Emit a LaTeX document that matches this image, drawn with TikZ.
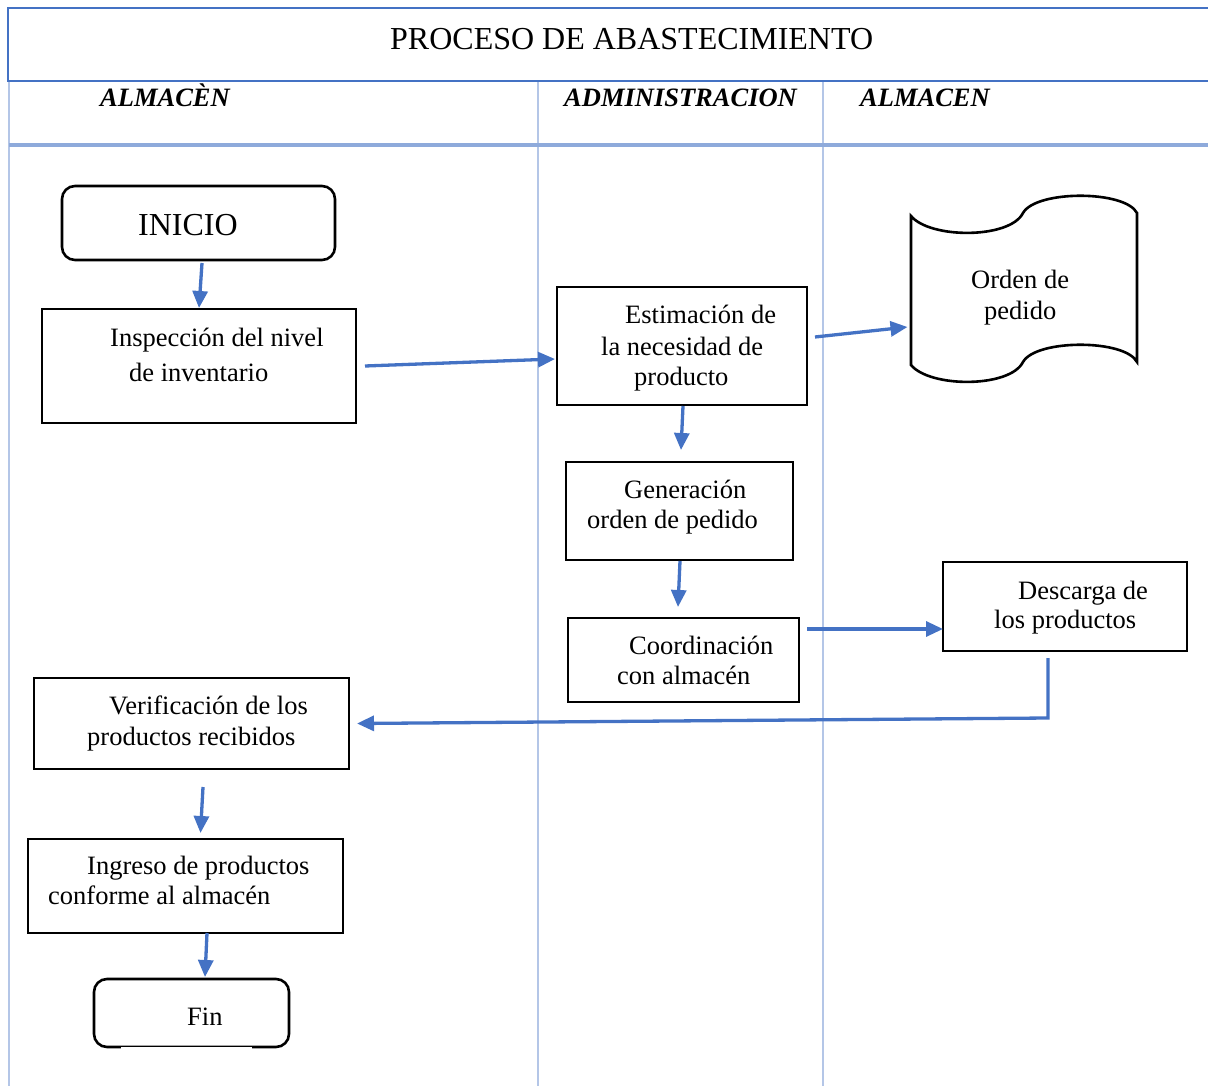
\documentclass[tikz,border=0pt]{standalone}
\usepackage{fontspec}
\setmainfont{Liberation Serif}
\usetikzlibrary{arrows.meta,calc}
\definecolor{arrblue}{HTML}{4472C4}
\definecolor{lanelight}{HTML}{B4C6E7}
\definecolor{lanemid}{HTML}{8EAADB}
\begin{document}
\begin{tikzpicture}[x=1pt,y=-1pt,
  box/.style={draw=black,line width=1.7pt,inner sep=0pt,outer sep=0pt,rectangle},
  roundbox/.style={draw=black,line width=2.6pt,inner sep=0pt,outer sep=0pt,rounded corners=13pt,rectangle},
  txt/.style={anchor=base west,inner sep=0pt,font=\fontsize{26.5}{31}\selectfont},
  hdr/.style={anchor=base west,inner sep=0pt,font=\fontsize{26.5}{31}\selectfont\bfseries\itshape},
  arr/.style={draw=arrblue,line width=3.3pt,-{Triangle[length=17pt,width=15pt]}}
]
\useasboundingbox (0,0) rectangle (1208,1086);
% table frame
\draw[lanelight,line width=2pt] (9,81) -- (9,1086);
\draw[lanelight,line width=2pt] (538,81) -- (538,1086);
\draw[lanelight,line width=2pt] (823,81) -- (823,1086);
\draw[lanemid,line width=3.5pt] (9,145) -- (1208,145);
\draw[arrblue,line width=2.5pt] (1208,8) -- (8,8) -- (8,81) -- (1208,81);
\node[anchor=base west,inner sep=0pt,font=\fontsize{32}{38}\selectfont] (title) at (390,50) {PROCESO DE ABASTECIMIENTO};
\node[hdr] (h1) at (100,107) {ALMACÈN};
\node[hdr] (h2) at (564,107) {ADMINISTRACION};
\node[hdr] (h3) at (860,107) {ALMACEN};
% boxes
\node[roundbox,minimum width=273pt,minimum height=74pt] (inicio) at (198.5,223) {};
\node[anchor=base west,inner sep=0pt,font=\fontsize{32}{38}\selectfont] (tinicio) at (138,236) {INICIO};
\node[box,minimum width=314pt,minimum height=114pt] (insp) at (199,366) {};
\node[txt] (tinsp1) at (110,346.5) {Inspección del nivel};
\node[txt] (tinsp2) at (129,381) {de inventario};
\node[box,minimum width=250pt,minimum height=118pt] (estim) at (682,346) {};
\node[txt] (testim1) at (625,323.5) {Estimación de};
\node[txt] (testim2) at (601,355) {la necesidad de};
\node[txt] (testim3) at (634,385.5) {producto};
% tape shape
\node[rectangle,inner sep=0pt,outer sep=0pt,minimum width=227pt,minimum height=150pt] (orden) at (1024,289) {};
\draw[black,line width=2.6pt] (911,216) .. controls (930,239) and (1010,239) .. (1023,213)
  .. controls (1036,190) and (1125,190) .. (1137,213) -- (1137,362)
  .. controls (1125,339) and (1036,339) .. (1023,362)
  .. controls (1010,388) and (930,388) .. (911,365) -- cycle;
\node[txt] (torden1) at (971,289) {Orden de};
\node[txt] (torden2) at (984,319.5) {pedido};
\node[box,minimum width=227pt,minimum height=98pt] (gen) at (679.5,511) {};
\node[txt] (tgen1) at (624,498) {Generación};
\node[txt] (tgen2) at (587,528) {orden de pedido};
\node[box,minimum width=231pt,minimum height=84pt] (coord) at (683.5,660) {};
\node[txt] (tcoord1) at (629,654) {Coordinación};
\node[txt] (tcoord2) at (617,684) {con almacén};
\node[box,minimum width=244pt,minimum height=89pt] (desc) at (1065,606.5) {};
\node[txt] (tdesc1) at (1018,599) {Descarga de};
\node[txt] (tdesc2) at (994,628.5) {los productos};
\node[box,minimum width=315pt,minimum height=91pt] (verif) at (191.5,723.5) {};
\node[txt] (tverif1) at (109,714) {Verificación de los};
\node[txt] (tverif2) at (87,745) {productos recibidos};
\node[box,minimum width=315pt,minimum height=94pt] (ingr) at (185.5,886) {};
\node[txt] (tingr1) at (87,874.5) {Ingreso de productos};
\node[txt] (tingr2) at (48,904.5) {conforme al almacén};
\node[roundbox,minimum width=195pt,minimum height=68pt] (fin) at (191.5,1013) {};
\draw[white,line width=3pt] (121,1047) -- (252,1047);
\draw[black,line width=1pt] (121,1046.3) -- (252,1046.3);
\node[txt] (tfin) at (187,1025) {Fin};
% connectors
\draw[arr] ($(inicio.south)+(3.5,3)$) -- ($(insp.north)+(0,-1)$);
\draw[arr] ($(insp.east)+(9,0)$) -- ($(estim.west)+(-2,13)$);
\draw[arr] ($(estim.east)+(8,-9)$) -- ($(orden.west)+(-3,38)$);
\draw[arr] ($(estim.south)+(1,1)$) -- ($(gen.north)+(1.5,-12)$);
\draw[arr] ($(gen.south)+(0.5,1)$) -- ($(coord.north)+(-5.5,-11)$);
\draw[arr] ($(coord.east)+(8,-31)$) -- ($(desc.west)+(0,22.5)$);
\coordinate (corner) at (1048,718);
\draw[arr,line join=miter] ($(desc.south)+(-17,7)$) -- (corner) -- ($(verif.east)+(8,0)$);
\draw[arr] ($(verif.south)+(11.5,18)$) -- ($(ingr.north)+(15,-6)$);
\draw[arr] ($(ingr.south)+(21.5,0)$) -- ($(fin.north)+(13.5,-2)$);
\end{tikzpicture}
\end{document}
